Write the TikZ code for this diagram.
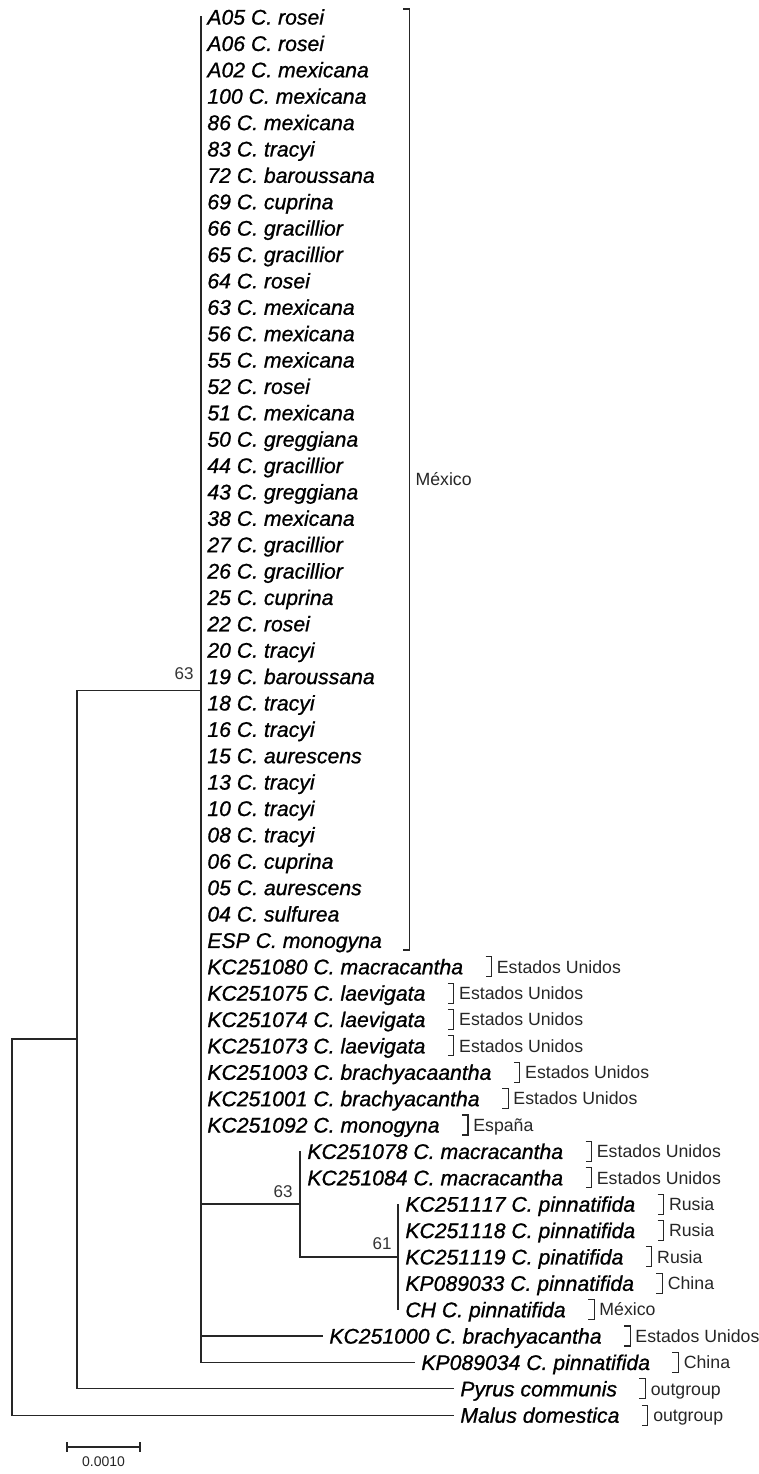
\documentclass[tikz,border=0pt]{standalone}
\usepackage{fontspec}
\setmainfont{Liberation Sans}[Kerning=Off]
\newfontfamily\taxfont{Liberation Sans}[Kerning=Off, ItalicFeatures={FakeBold=0.9}]
\usetikzlibrary{calc}
\begin{document}
\begin{tikzpicture}[x=0.5pt,y=-0.5pt,
  br/.style={line width=0.6pt, draw=black!85, line cap=rect},
  brk/.style={line width=0.55pt, draw=black!85},
  taxon/.style={font=\taxfont\fontsize{10.6pt}{12pt}\selectfont\itshape, anchor=west, inner sep=0pt, text height=7.59pt, text depth=0pt},
  geo/.style={font=\fontsize{8.85pt}{10pt}\selectfont, anchor=west, inner sep=0pt, text height=6.34pt, text depth=0pt, text=black!85},
  boot/.style={font=\fontsize{8.5pt}{10pt}\selectfont, anchor=base east, inner sep=0pt, text=black!80},
  sclab/.style={font=\fontsize{7pt}{8pt}\selectfont, inner sep=0pt, text=black!85}]
\useasboundingbox (0,0) rectangle (759,1474);
\def\ry#1{17+26.38*#1}
% Mexico group (zero-length branches)
\foreach \i/\tx in {0/A05 C. rosei,1/A06 C. rosei,2/A02 C. mexicana,3/100 C. mexicana,4/86 C. mexicana,5/83 C. tracyi,6/72 C. baroussana,7/69 C. cuprina,8/66 C. gracillior,9/65 C. gracillior,10/64 C. rosei,11/63 C. mexicana,12/56 C. mexicana,13/55 C. mexicana,14/52 C. rosei,15/51 C. mexicana,16/50 C. greggiana,17/44 C. gracillior,18/43 C. greggiana,19/38 C. mexicana,20/27 C. gracillior,21/26 C. gracillior,22/25 C. cuprina,23/22 C. rosei,24/20 C. tracyi,25/19 C. baroussana,26/18 C. tracyi,27/16 C. tracyi,28/15 C. aurescens,29/13 C. tracyi,30/10 C. tracyi,31/08 C. tracyi,32/06 C. cuprina,33/05 C. aurescens,34/04 C. sulfurea,35/ESP C. monogyna,36/KC251080 C. macracantha,37/KC251075 C. laevigata,38/KC251074 C. laevigata,39/KC251073 C. laevigata,40/KC251003 C. brachyacaantha,41/KC251001 C. brachyacantha,42/KC251092 C. monogyna}
  {\coordinate (p\i) at (201,{\ry{\i}});
   \node[taxon] (t\i) at (207,{\ry{\i}}) {\tx};}
% other tips
\foreach \i/\xx/\tx in {43/300/KC251078 C. macracantha,44/300/KC251084 C. macracantha,45/398/KC251117 C. pinnatifida,46/398/KC251118 C. pinnatifida,47/398/KC251119 C. pinatifida,48/398/KP089033 C. pinnatifida,49/398/CH C. pinnatifida,50/322/KC251000 C. brachyacantha,51/414/KP089034 C. pinnatifida,52/453/Pyrus communis,53/453/Malus domestica}
  {\coordinate (p\i) at (\xx,{\ry{\i}});
   \node[taxon] (t\i) at (\xx+7,{\ry{\i}}) {\tx};}
% internal nodes
\coordinate (root) at (12,1227);
\coordinate (nA) at (77,1039);
\coordinate (nB) at (201,690.5);
\coordinate (nC) at (300,1204);
\coordinate (nD) at (398,1257);
% branches
\draw[br] (root |- nA) -- (root |- p53);
\draw[br] (root |- nA) -- (nA);
\draw[br] (root |- p53) -- (p53);
\draw[br] (nA |- nB) -- (nA |- p52);
\draw[br] (nA |- nB) -- (nB);
\draw[br] (nA |- p52) -- (p52);
\draw[br] (nB |- p0) -- (nB |- p51);
\draw[br] (nB |- nC) -- (nC);
\draw[br] (nB |- p50) -- (p50);
\draw[br] (nB |- p51) -- (p51);
\draw[br] (nC |- p43) -- (nC |- nD);
\draw[br] (nC |- nD) -- (nD);
\draw[br] (nD |- p45) -- (nD |- p49);
% bootstrap values
\node[boot] (bs1) at ($(nB)+(-7,-11)$) {63};
\node[boot] (bs2) at ($(nC)+(-7,-7)$) {63};
\node[boot] (bs3) at ($(nD)+(-6,-8)$) {61};
% Mexico bracket
\coordinate (mxb) at ($(t35.east)+(27,0)$);
\draw[brk] (mxb |- 0,9) ++(-6,0) -- (mxb |- 0,9) -- (mxb |- 0,950) -- ++(-6,0);
\node[geo] (mx) at ($(mxb |- 0,479)+(6,0)$) {México};
% single-taxon brackets
\foreach \i/\lab in {36/Estados Unidos,37/Estados Unidos,38/Estados Unidos,39/Estados Unidos,40/Estados Unidos,41/Estados Unidos,42/España,43/Estados Unidos,44/Estados Unidos,45/Rusia,46/Rusia,47/Rusia,48/China,49/México,50/Estados Unidos,51/China,52/outgroup,53/outgroup}
  {\draw[brk] ($(t\i.east)+(22,-10)$) -- ++(6,0) -- ++(0,20) -- ++(-6,0);
   \node[geo] (g\i) at ($(t\i.east)+(33,0)$) {\lab};}
% scale bar
\coordinate (sbL) at (67,1447);
\coordinate (sbR) at (140,1447);
\draw[br] (sbL) -- (sbR);
\draw[br] ($(sbL)+(0,-4)$) -- ($(sbL)+(0,4)$);
\draw[br] ($(sbR)+(0,-4)$) -- ($(sbR)+(0,4)$);
\node[sclab] (sbt) at (103.5,1462) {0.0010};
\end{tikzpicture}
\end{document}
